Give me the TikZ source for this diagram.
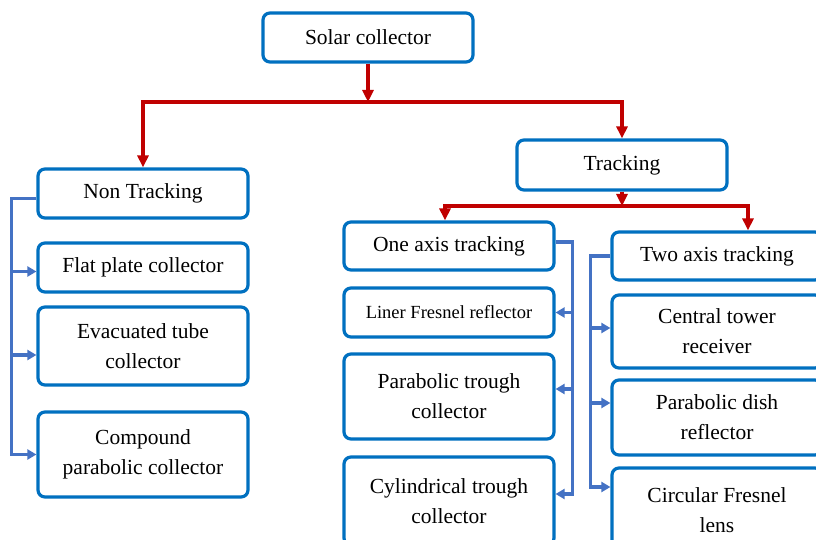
\documentclass[tikz,border=0pt]{standalone}
\usepackage{fontspec}
\setmainfont{Liberation Serif}
\usetikzlibrary{arrows.meta, positioning}
\definecolor{boxblue}{HTML}{0070C0}
\definecolor{linkblue}{HTML}{4472C4}
\definecolor{darkred}{HTML}{C00000}

\begin{document}
\begin{tikzpicture}[x=1pt, y=-1pt, >={Triangle[length=12pt,width=11pt]},
  box/.style={draw=boxblue, line width=3.2pt, rounded corners=7pt, fill=white,
    align=center, inner sep=0pt, minimum width=210pt,
    font=\fontsize{21.5}{30}\selectfont},
  redline/.style={darkred, line width=3.2pt, ->},
  blueline/.style={linkblue, line width=3.2pt, -{Triangle[length=9pt,width=10pt]}}]
  \clip (0,0) rectangle (816,540);
  \fill[white] (0,0) rectangle (816,540);

  % Hlavni uzly
  \node[box, minimum height=49pt] (solar) at (368,37.5) {Solar collector};
  \node[box, minimum height=49pt] (nontrack) at (143,193.5) {Non Tracking};
  \node[box, minimum height=50pt] (track) at (622,165) {Tracking};

  % Non tracking
  \node[box, minimum height=49pt] (flat) at (143,267.5) {Flat plate collector};
  \node[box, minimum height=78pt] (evac) at (143,346) {Evacuated tube\\collector};
  \node[box, minimum height=85pt] (cpc) at (143,454.5) {Compound\\parabolic collector};

  % One axis
  \node[box, minimum height=48pt] (oneaxis) at (449,246) {One axis tracking};
  \node[box, minimum height=49pt, font=\fontsize{18.5}{24}\selectfont] (lfr) at (449,312.5) {Liner Fresnel reflector};
  \node[box, minimum height=85pt] (ptc) at (449,396.5) {Parabolic trough\\collector};
  \node[box, minimum height=88pt] (ctc) at (449,501) {Cylindrical trough\\collector};

  % Two axis
  \node[box, minimum height=48pt] (twoaxis) at (717,256) {Two axis tracking};
  \node[box, minimum height=73pt] (ctr) at (717,331.5) {Central tower\\receiver};
  \node[box, minimum height=75pt] (pdr) at (717,417.5) {Parabolic dish\\reflector};
  \node[box, minimum height=84pt] (cfl) at (717,510) {Circular Fresnel\\lens};

  % Cervene sipky
  \coordinate (bus) at (368,102);
  \draw[redline] (solar) -- (bus);
  \draw[redline] (bus) -| (nontrack);
  \draw[redline] (bus) -| (track);
  \coordinate (bus2) at (622,206);
  \draw[redline] (track) -- (bus2);
  \draw[redline] (bus2) -| ([xshift=-4pt]oneaxis.north);
  \draw[redline] (bus2) -| ([xshift=31pt]twoaxis.north);

  % Modre spojky
  \draw[blueline] ([yshift=-5pt]nontrack.west) -- ++(-25,0) |- (cpc.west);
  \foreach \n/\s in {flat/-4, evac/-9}
    \draw[blueline] ([xshift=-25pt, yshift=\s pt]\n.west) -- ([yshift=\s pt]\n.west);

  \draw[blueline] ([yshift=4pt]oneaxis.east) -- ++(17,0) |- ([yshift=7pt]ctc.east);
  \foreach \n/\s in {lfr/0, ptc/7.5}
    \draw[blueline] ([xshift=17pt, yshift=\s pt]\n.east) -- ([yshift=\s pt]\n.east);

  \draw[blueline] (twoaxis.west) -- ++(-20,0) |- ([yshift=23pt]cfl.west);
  \foreach \n/\s in {ctr/3.5, pdr/14.5}
    \draw[blueline] ([xshift=-20pt, yshift=\s pt]\n.west) -- ([yshift=\s pt]\n.west);
\end{tikzpicture}
\end{document}
